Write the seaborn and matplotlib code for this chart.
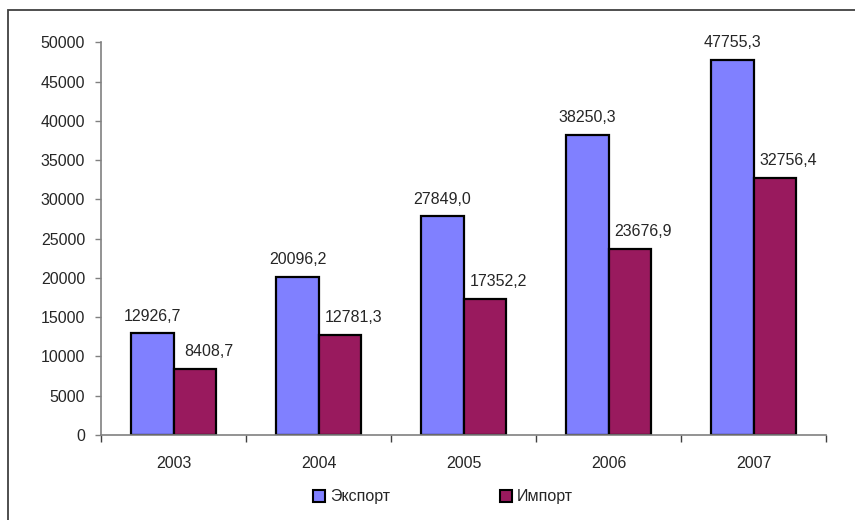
import matplotlib
matplotlib.use("Agg")
import matplotlib.pyplot as plt
import seaborn as sns
import pandas as pd
from matplotlib.patches import Patch, Rectangle

years = ["2003", "2004", "2005", "2006", "2007"]
export_vals = [12926.7, 20096.2, 27849.0, 38250.3, 47755.3]
import_vals = [8408.7, 12781.3, 17352.2, 23676.9, 32756.4]
series = ["Экспорт", "Импорт"]
colors = ["#8080FF", "#991A5E"]
y_ticks = [0, 5000, 10000, 15000, 20000, 25000, 30000, 35000, 40000, 45000, 50000]

df = pd.DataFrame({
    "year": years * 2,
    "value": export_vals + import_vals,
    "type": [series[0]] * len(years) + [series[1]] * len(years),
})

sns.set_style("white")
plt.rcParams["font.family"] = ["Liberation Sans", "DejaVu Sans"]
plt.rcParams["font.size"] = 11.5

fig = plt.figure(figsize=(8.55, 5.2), dpi=100)
ax = fig.add_axes([101 / 855, 1 - 435 / 520, 725 / 855, (435 - 42.3) / 520])

sns.barplot(data=df, x="year", y="value", hue="type", palette=colors,
            edgecolor="black", linewidth=1.6, width=0.58, legend=False,
            saturation=1, ax=ax)

ax.set_xlim(-0.5, len(years) - 0.5)
ax.set_ylim(0, 50000)
ax.set_yticks(y_ticks)
ax.set_yticklabels([str(t) for t in y_ticks])
ax.set_xlabel("")
ax.set_ylabel("")

for s in ["top", "right"]:
    ax.spines[s].set_visible(False)
for s in ["left", "bottom"]:
    ax.spines[s].set_color("#808080")
    ax.spines[s].set_linewidth(1.2)

ax.tick_params(axis="y", which="major", left=True, length=4.5, width=1, color="#808080",
               pad=7, labelsize=11.5, direction="out")
ax.tick_params(axis="x", which="major", bottom=False, length=0, pad=15, labelsize=11.5)
ax.set_xticks([i - 0.5 for i in range(len(years) + 1)], minor=True)
ax.tick_params(axis="x", which="minor", bottom=True, length=5, width=1, color="#404040",
               direction="out")

for ci, cont in enumerate(ax.containers):
    vals = export_vals if ci == 0 else import_vals
    dx = 0 if ci == 0 else 10
    for bar, v in zip(cont, vals):
        ax.annotate(f"{v:.1f}".replace(".", ","),
                    (bar.get_x() + bar.get_width() / 2, bar.get_height()),
                    xytext=(dx, 7), textcoords="offset points",
                    ha="center", va="bottom", fontsize=11.5, annotation_clip=False)

handles = [Patch(facecolor=c, edgecolor="black", linewidth=1.5) for c in colors]
fig.legend(handles, series, loc="center", bbox_to_anchor=(443 / 855, 1 - 497 / 520),
           ncol=2, frameon=False, handlelength=0.75, handleheight=0.75,
           handletextpad=0.3, columnspacing=6.9, fontsize=11.5)

fig.patches.append(Rectangle((8 / 855, -0.1), 1.2, 1.1 - 10 / 520 + 0.0,
                             transform=fig.transFigure, fill=False,
                             edgecolor="#404040", linewidth=1.3, figure=fig))

fig.savefig("out.png", dpi=100)
